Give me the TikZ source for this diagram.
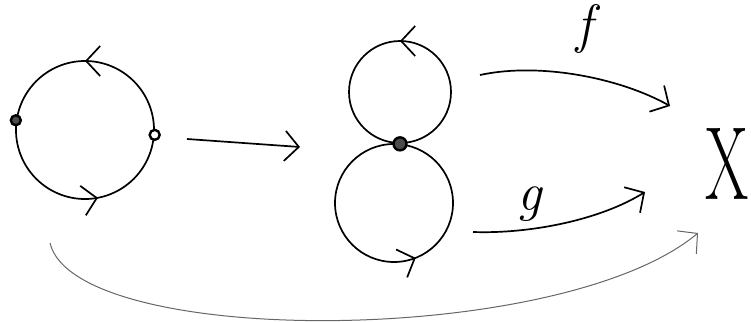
\documentclass[tikz,border=0pt]{standalone}
\usetikzlibrary{arrows.meta,decorations.markings}

\begin{document}
\begin{tikzpicture}[x=1pt,y=-1pt,
  >={Straight Barb[length=14pt,width=30pt]},
  space/.style={draw,circle,line width=1.7pt,inner sep=0pt},
  flow/.style={postaction={decorate,decoration={markings,
               mark=at position #1 with {\arrow{>}}}}},
  pt/.style={draw,circle,line width=2.4pt,inner sep=0pt,minimum size=10pt},
  arr/.style={->,line width=1.7pt},
  lab/.style={font=\fontsize{54}{54}\selectfont\itshape}
]
  \useasboundingbox (0,0) rectangle (751,321);
  % Circle with two points
  \node[space,minimum size=138pt,flow=0.25,flow=0.78] (circ) at (85,130) {};
  \node[pt,fill=black!70] (p) at (circ.172) {};
  \node[pt,fill=white] (q) at (circ.-4) {};
  % Figure eight
  \node[space,minimum size=102pt,flow=0.25] (upper) at (400,92) {};
  \node[space,minimum size=118pt,flow=0.81] (lower) at (394,203) {};
  \node[pt,fill=black!70,minimum size=13pt] (w) at (upper.south) {};
  % Space X
  \node[font=\fontsize{104}{104}\selectfont] (X) at (727,164) {\scalebox{0.6}[1]{X}};
  % Labels
  \node[lab] (f) at (585,29) {f};
  \node[lab] (g) at (530,204) {g};
  % Arrow ends
  \coordinate (q0) at (187,139);
  \coordinate (w0) at (300,147);
  \coordinate (f0) at (480,75);
  \coordinate (f1) at (670,106);
  \coordinate (g0) at (473,232);
  \coordinate (g1) at (645,192);
  \coordinate (h0) at (50,243);
  \coordinate (h1) at (698,233);
  % Maps
  \draw[arr] (q0) -- (w0);
  \draw[arr] (f0) .. controls (540,62) and (620,78) .. (f1);
  \draw[arr] (g0) .. controls (530,234) and (600,220) .. (g1);
  \draw[arr,line width=1pt,black!60] (h0) .. controls (75,348) and (560,348) .. (h1);
\end{tikzpicture}
\end{document}
